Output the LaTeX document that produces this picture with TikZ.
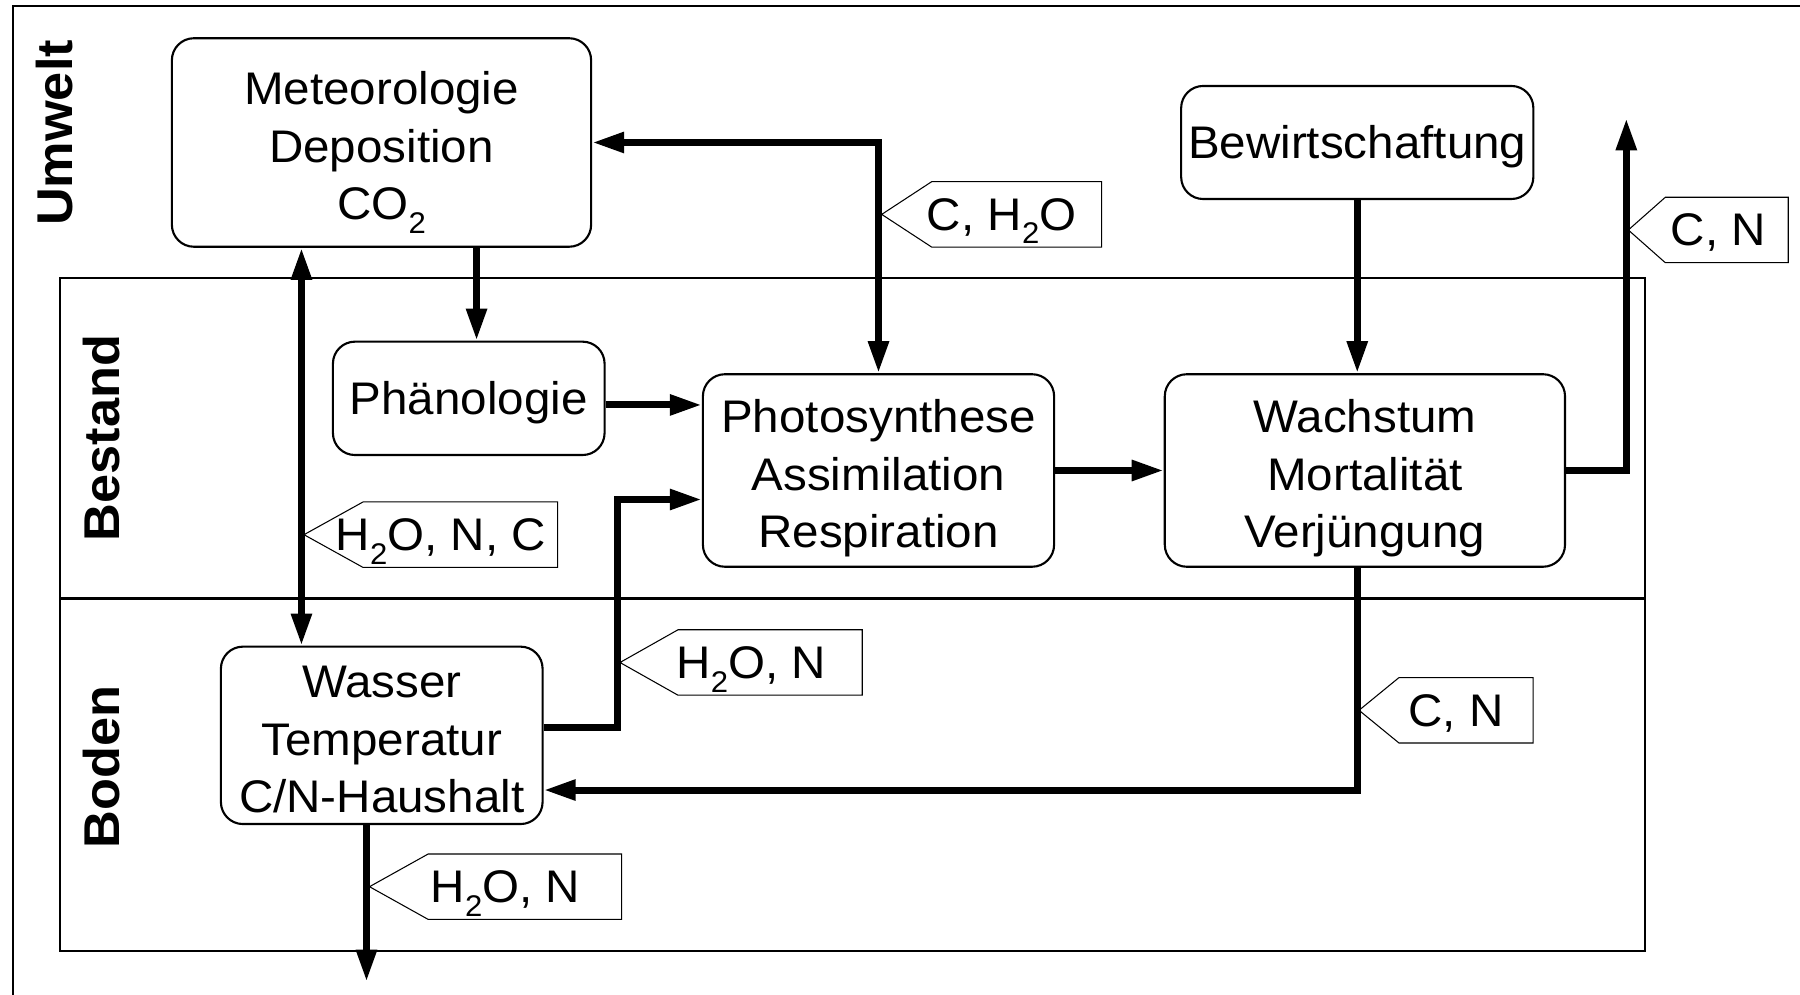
\documentclass[tikz,border=0pt]{standalone}
\usepackage{fontspec}
\setmainfont{Liberation Sans}[FakeStretch=1.04]
\usetikzlibrary{arrows.meta,calc}
\newcommand{\subtwo}{\smash{\raisebox{-0.3em}{\fontsize{8.5}{9}\selectfont 2}}}

\begin{document}
\begin{tikzpicture}
  [x=0.01cm,y=-0.01cm,
   every node/.style={font=\fontsize{13}{16.4}\selectfont,inner sep=0pt},
   ascent/.style 2 args={execute at begin node={\rule{0pt}{#1}\hspace*{#2}},
     execute at end node={\rule[-2.76pt]{0pt}{2.76pt}}},
   box/.style={draw,line width=0.6pt,rounded corners=0.22cm,align=center,ascent={11.8pt}{0pt}},
   three/.style={ascent={46.8pt}{0pt}},
   layer/.style={font=\fontsize{14.3}{16}\selectfont\bfseries,rotate=90},
   tag/.style={minimum height=0.64cm,anchor=west,ascent={11.8pt}{2mm}},
   tagline/.style={line width=0.3pt},
   frame/.style={line width=0.6pt},
   flow/.style={line width=2pt},
   >={Triangle[length=0.32cm,width=0.195cm]}]
  \useasboundingbox (0,0) rectangle (1800,995);

  % frames
  \draw[frame] (12.7,995) |- (1800,6);
  \draw[frame] (60,278) rectangle (1645.3,950.7);
  \draw[frame] (60,598.5) -- (1645.3,598.5);

  \node[layer] (umw) at (54.5,133) {Umwelt};
  \node[layer] (bes) at (102,438) {Bestand};
  \node[layer] (bod) at (102,767) {Boden};

  % boxes
  \node[box,three,minimum width=4.19cm,minimum height=2.084cm] (met) at (381.5,142.5) {Meteorologie\\Deposition\\CO\subtwo};
  \node[box,minimum width=2.715cm,minimum height=1.133cm] (pha) at (468.75,398.35) {Phänologie};
  \node[box,three,minimum width=3.51cm,minimum height=1.924cm] (pho) at (878.5,470.5) {Photosynthese\\Assimilation\\Respiration};
  \node[box,minimum width=3.52cm,minimum height=1.13cm] (bew) at (1357.25,142.5) {Bewirtschaftung};
  \node[box,three,minimum width=4.0cm,minimum height=1.924cm] (wach) at (1364.9,470.5) {Wachstum\\Mortalität\\Verjüngung};
  \node[box,three,minimum width=3.215cm,minimum height=1.773cm] (was) at (381.75,735.35) {Wasser\\Temperatur\\C/N-Haushalt};

  % flows
  \coordinate (a1) at ([xshift=0.95cm]met.south);
  \coordinate (a2) at ([yshift=-0.066cm]pha.east);
  \coordinate (a3) at ([xshift=-0.8cm]met.south);
  \coordinate (a4) at ([yshift=0.0765cm]was.east);
  \coordinate (a5) at ([yshift=-0.29cm]pho.west);
  \coordinate (a6) at ([xshift=-0.077cm]wach.south);
  \coordinate (a7) at ([yshift=-0.5465cm]was.east);
  \coordinate (cnout) at (1626.3,118.3);
  \coordinate (wout) at (366.5,981.7);

  \draw[flow,->] (a1) -- (a1 |- pha.north);
  \draw[flow,->] (a2) -- (a2 -| pho.west);
  \draw[flow,<->] (pho.north) |- (met.east);
  \draw[flow,<->] (a3) -- (a3 |- was.north);
  \draw[flow,->] (a4) -- ++(74,0) |- (a5);
  \draw[flow,->] (pho.east) -- (wach.west);
  \draw[flow,->] (bew.south) -- (bew.south |- wach.north);
  \draw[flow,->] (wach.east) -| (cnout);
  \draw[flow,->] (a6) |- (a7);
  \draw[flow,->] (wout |- was.south) -- (wout);

  % tags
  \node[tag,minimum width=2.183cm] (cho) at (881.7,214.4) {C, H\subtwo O};
  \node[tag,minimum width=1.584cm] (cnup) at (1628.3,230) {C, N};
  \node[tag,minimum width=2.52cm] (hnc) at (304,534.7) {H\subtwo O, N, C};
  \node[tag,minimum width=2.407cm] (hnmid) at (620,662.5) {H\subtwo O, N};
  \node[tag,minimum width=2.505cm] (hnlow) at (369.5,886.7) {H\subtwo O, N};
  \node[tag,minimum width=1.725cm] (cnlow) at (1359,710.3) {C, N};

  \foreach \t/\w in {cho/50,cnup/37,hnc/59,hnmid/58,hnlow/58.7,cnlow/40}
    \draw[tagline] (\t.west) -- ($(\t.north west)+(\w,0)$) -- (\t.north east)
      -- (\t.south east) -- ($(\t.south west)+(\w,0)$) -- cycle;

\end{tikzpicture}
\end{document}
